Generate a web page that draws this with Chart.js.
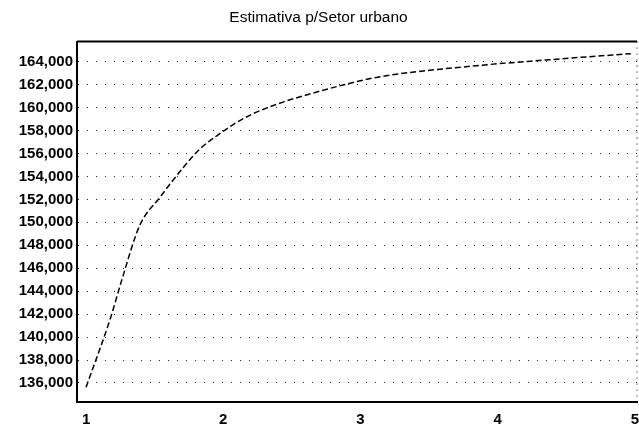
<!DOCTYPE html>
<html>
<head>
<meta charset="utf-8">
<script src="https://cdn.jsdelivr.net/npm/chart.js"></script>
<style>
  html, body { margin: 0; padding: 0; background: #fff; }
  #wrap { width: 639px; height: 433px; }
</style>
</head>
<body>
<div id="wrap"><canvas id="myChart" width="639" height="433"></canvas></div>
<script>
// Values
const xValues = [1.0, 1.18, 1.26, 1.39, 1.54, 1.71, 1.83, 1.96, 2.07, 2.2, 2.32, 2.44, 2.56, 2.88, 3.15, 3.8, 4.41, 4.97];
const yValues = [135620, 141730, 144960, 149700, 152200, 154800, 156400, 157600, 158500, 159370, 159980, 160500, 160940, 161990, 162700, 163600, 164200, 164700];
const xTicks = [1, 2, 3, 4, 5];
const yTicks = [136000, 138000, 140000, 142000, 144000, 146000, 148000, 150000, 152000, 154000, 156000, 158000, 160000, 162000, 164000];
const chartTitle = 'Estimativa p/Setor urbano';

// top and right edges of the plot box
const boxEdges = {
    id: 'boxEdges',
    afterDraw(chart) {
        const { ctx, chartArea: a } = chart;
        ctx.save();
        ctx.strokeStyle = '#000';
        ctx.lineWidth = 2;
        ctx.beginPath();
        ctx.moveTo(a.left, a.top);
        ctx.lineTo(a.right, a.top);
        ctx.stroke();
        ctx.lineWidth = 1;
        ctx.setLineDash([1, 5]);
        ctx.beginPath();
        ctx.moveTo(a.right, a.top);
        ctx.lineTo(a.right, a.bottom);
        ctx.stroke();
        ctx.restore();
    }
};

const ctx = document.getElementById('myChart').getContext('2d');
new Chart(ctx, {
    type: 'line',
    data: {
        datasets: [{
            data: xValues.map((x, i) => ({ x: x, y: yValues[i] })),
            borderColor: '#000',
            borderWidth: 1.5,
            borderDash: [6, 3],
            pointRadius: 0,
            fill: false,
            cubicInterpolationMode: 'monotone'
        }]
    },
    options: {
        responsive: false,
        animation: false,
        layout: { padding: { left: 0, right: 2, top: 0, bottom: 0 } },
        plugins: {
            legend: { display: false },
            tooltip: { enabled: false },
            title: {
                display: true,
                text: chartTitle,
                color: '#000',
                font: { family: 'Liberation Sans, Arial, sans-serif', size: 15.5, weight: 'normal' },
                padding: { top: 8, bottom: 15 }
            }
        },
        scales: {
            x: {
                type: 'linear',
                min: 0.934,
                max: 5.015,
                afterBuildTicks: axis => { axis.ticks = xTicks.map(v => ({ value: v })); },
                afterFit: axis => { axis.height = 31; axis.paddingRight = 0; axis.paddingLeft = 0; },
                grid: { drawOnChartArea: false, drawTicks: false },
                border: { display: true, color: '#000', width: 2 },
                ticks: {
                    color: '#000',
                    padding: 9,
                    autoSkip: false,
                    maxRotation: 0,
                    font: { family: 'Liberation Sans, Arial, sans-serif', size: 15, weight: 'bold' }
                }
            },
            y: {
                min: 134340,
                max: 165750,
                afterBuildTicks: axis => { axis.ticks = yTicks.map(v => ({ value: v })); },
                afterFit: axis => { axis.width = 77; },
                grid: { color: '#222', lineWidth: 1, drawTicks: false },
                border: { display: true, color: '#000', width: 2, dash: [1, 8] },
                ticks: {
                    color: '#000',
                    padding: 4,
                    autoSkip: false,
                    font: { family: 'Liberation Sans, Arial, sans-serif', size: 15, weight: 'bold' },
                    callback: v => v.toLocaleString('en-US')
                }
            }
        }
    },
    plugins: [boxEdges]
});
</script>
</body>
</html>
